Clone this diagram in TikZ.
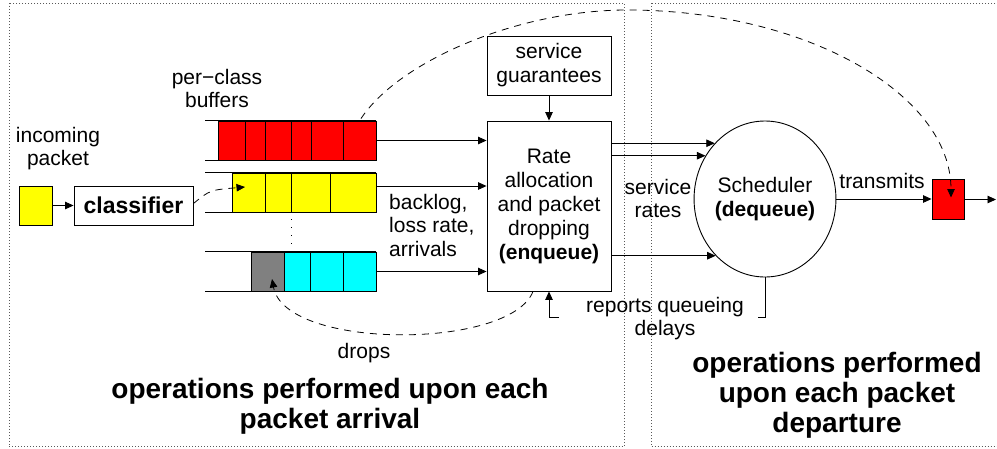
\documentclass[tikz,border=0pt]{standalone}
\usepackage{fontspec}
\setmainfont{Liberation Sans}
\usetikzlibrary{arrows.meta,shapes.geometric}

\definecolor{pktred}{HTML}{FF0000}
\definecolor{pktyellow}{HTML}{FFFF00}
\definecolor{pktcyan}{HTML}{00FFFF}
\definecolor{pktgray}{HTML}{808080}

\tikzset{
  lbl/.style={font=\fontsize{21}{23.5}\selectfont, align=center, inner sep=0pt},
  box/.style={draw=black, line width=0.9pt, fill=white, inner sep=0pt,
              font=\fontsize{21}{24}\selectfont, align=center},
  cell/.style={draw=black, line width=0.9pt, inner sep=0pt, minimum height=39pt},
  bufline/.style={draw=black, line width=0.9pt},
  arr/.style={line width=0.9pt, -{Triangle[length=8.5pt,width=7.5pt]}},
  dasharr/.style={line width=0.8pt, dash pattern=on 7pt off 6pt,
                  -{Triangle[length=8.5pt,width=7.5pt]}},
  frame/.style={draw=black!65, line width=0.7pt, dash pattern=on 0.7pt off 2.3pt},
  title/.style={font=\fontsize{28}{30}\selectfont\bfseries, align=center, inner sep=0pt},
}

\begin{document}
\begin{tikzpicture}[x=1pt,y=-1pt]
\useasboundingbox (0,0) rectangle (997,448);

% dotted frames of the two operation groups
\draw[frame] (9,3) rectangle (624,446.5);
\draw[frame] (651,3) rectangle (1002,446.5);

% incoming packet and classifier
\node[draw=black, line width=0.9pt, fill=pktyellow, inner sep=0pt,
      minimum width=33pt, minimum height=39pt] (inpkt) at (35.5,205.5) {};
\node[box, minimum width=119pt, minimum height=39pt,
      font=\fontsize{23}{24}\selectfont\bfseries] (cls) at (133.5,205.5) {classifier};
\draw[arr] (inpkt) -- (cls);

% per-class buffers
\foreach \a/\b [count=\i] in {218/245,245/265,265/291,291/311,311/343,343/376}
  \node[cell, fill=pktred, minimum width={\b-\a}] (r\i) at ({(\a+\b)/2},140.5) {};
\draw[bufline] (r6.north east) -- ++(-171,0);
\draw[bufline] (r6.south east) -- ++(-171,0);

\foreach \a/\b [count=\i] in {232/265,265/291,291/330,330/376}
  \node[cell, fill=pktyellow, minimum width={\b-\a}] (y\i) at ({(\a+\b)/2},192.5) {};
\draw[bufline] (y4.north east) -- ++(-171,0);
\draw[bufline] (y4.south east) -- ++(-171,0);

\node[cell, fill=pktgray, minimum width=33pt] (g) at (267.5,271.5) {};
\foreach \a/\b [count=\i] in {284/310,310/343,343/376}
  \node[cell, fill=pktcyan, minimum width={\b-\a}] (c\i) at ({(\a+\b)/2},271.5) {};
\draw[bufline] (c3.north east) -- ++(-171,0);
\draw[bufline] (c3.south east) -- ++(-171,0);

\draw[line width=1pt, dash pattern=on 1pt off 7pt] (291,219) -- (291,244);

% rate allocation and service guarantees
\node[box, minimum width=124pt, minimum height=170pt] (rate) at (549,206)
  {Rate\\allocation\\and packet\\dropping\\\textbf{(enqueue)}};
\node[box, minimum width=124pt, minimum height=59pt] (sg) at (549,65.5)
  {service\\guarantees};
\draw[arr] (sg) -- (rate);

\draw[arr] (r6.east) -- (r6.east -| rate.west);
\draw[arr] ([yshift=6.5pt]y4.east) -- ([yshift=6.5pt]y4.east -| rate.west);
\draw[arr] (c3.east) -- (c3.east -| rate.west);

% scheduler
\node[draw=black, ellipse, line width=0.9pt, inner sep=0pt, minimum width=124pt,
      minimum height=156pt, align=center, font=\fontsize{21}{24}\selectfont]
  (sched) at (765,199) {Scheduler\\\textbf{(dequeue)}};

\draw[arr] (sched.132 -| rate.east) -- (sched.132);
\draw[arr] (sched.144 -| rate.east) -- (sched.144);
\draw[arr] (sched.229 -| rate.east) -- (sched.229);

% transmitted packet
\node[draw=black, line width=0.9pt, fill=pktred, inner sep=0pt,
      minimum width=32pt, minimum height=40pt] (tx) at (948,199.5) {};
\coordinate (out) at (996,199.5);
\draw[arr] (sched.east) -- (sched.east -| tx.west);
\draw[arr] (tx.east) -- (out);

% queueing delay feedback
\coordinate (fbR) at (758,317);
\coordinate (fbL) at (559,317);
\draw[line width=0.9pt] (sched.south) |- (fbR);
\draw[arr] (fbL) -| (rate.south);
\node[lbl] (rqd) at (665,318.5) {reports queueing\\delays};

% dashed control paths
\draw[dasharr] ([yshift=2pt]cls.east) .. controls (210,190) .. ([xshift=-3.5pt,yshift=5.5pt]y1.center);
\draw[dasharr] ([xshift=1.5pt,yshift=2pt]r6.north)
  .. controls (400,60) and (520,10) .. (627,10)
  .. controls (806,10) and (951,94) .. ([xshift=3pt,yshift=2pt]tx.center);
\draw[dasharr] ([xshift=-16pt]rate.south)
  .. controls (510,350) and (285,350) .. ([xshift=4.5pt,yshift=-7.5pt]g.center);

% labels
\node[lbl] (incl) at (58,148.5) {incoming\\packet};
\node[lbl] (pcl) at (217,88.5) {per−class\\buffers};
\node[lbl, align=left, anchor=west] (blg) at (389,225) {backlog,\\loss rate,\\arrivals};
\node[lbl] (srl) at (658,198.5) {service\\rates};
\node[lbl] (trl) at (882,181) {transmits};
\node[lbl] (drl) at (364,353) {drops};

\node[title] (t1) at (330,406) {operations performed upon each\\packet arrival};
\node[title] (t2) at (837,395) {operations performed\\upon each packet\\departure};
\end{tikzpicture}
\end{document}
